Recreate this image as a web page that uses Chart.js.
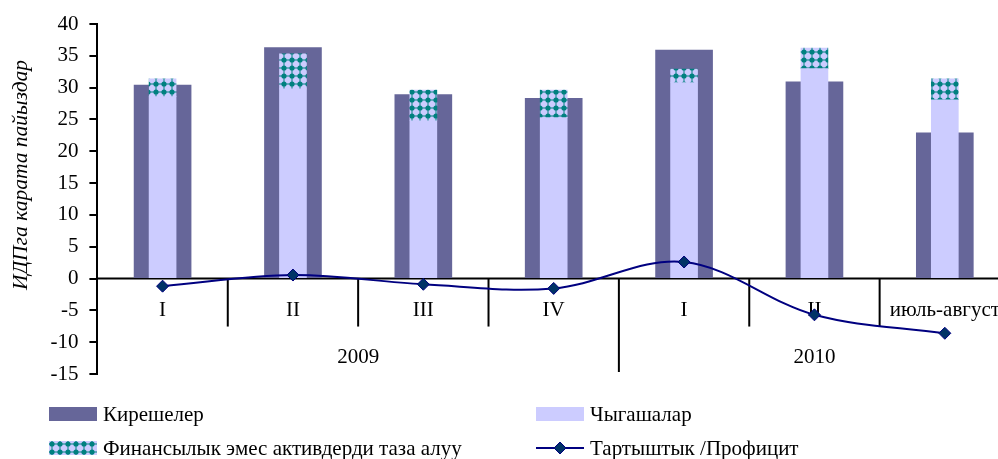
<!DOCTYPE html>
<html>
<head>
<meta charset="utf-8">
<script src="https://cdn.jsdelivr.net/npm/chart.js@4.4.0/dist/chart.umd.min.js"></script>
<style>
  html, body { margin: 0; padding: 0; background: #fff; overflow: hidden; }
  #wrap { width: 1017px; height: 459px; position: relative; }
</style>
</head>
<body>
<div id="wrap"><canvas id="budget-chart"></canvas></div>
<script>
// ------------------ DATA -------------------//
const quarters = ["I", "II", "III", "IV", "I", "II", "июль-август"];
const years = ["2009", "2009", "2009", "2009", "2010", "2010", "2010"];
const revenue = [30.4, 36.3, 28.9, 28.3, 35.9, 30.9, 22.9];
const spending = [28.6, 29.8, 24.8, 25.3, 30.8, 33.0, 28.1];
const netAssets = [2.8, 5.5, 4.8, 4.3, 2.1, 3.2, 3.3];
const balance = [-1.2, 0.55, -0.9, -1.55, 2.6, -5.7, -8.6];
const yMin = -15, yMax = 40, yStep = 5;
const seriesNames = ["Кирешелер", "Чыгашалар", "Финансылык эмес активдерди таза алуу", "Тартыштык /Профицит"];
const yTitle = "ИДПга карата пайыздар";

const FONT = '"Liberation Serif", "Times New Roman", serif';
const DARK = '#666699';
const LIGHT = '#CCCCFF';
const TEAL = '#008080';
const NAVY = '#000080';

// ------------------ checkered fill for the assets bars -------------------//
function makePattern() {
    const p = document.createElement('canvas');
    p.width = 8; p.height = 8;
    const c = p.getContext('2d');
    c.fillStyle = LIGHT;
    c.fillRect(0, 0, 8, 8);
    c.fillStyle = TEAL;
    c.fillRect(0, 3.5, 8, 1);
    c.fillRect(3.5, 0, 1, 8);
    c.beginPath();
    c.arc(4, 4, 2.6, 0, Math.PI * 2);
    c.fill();
    return c.createPattern(p, 'repeat');
}
const assetsFill = makePattern();

// ------------------ category axis drawn on the zero line -------------------//
const zeroAxis = {
    id: 'zeroAxis',
    beforeDatasetsDraw(chart) {
        const ctx = chart.ctx;
        const x = chart.scales.x, y = chart.scales.y;
        const area = chart.chartArea;
        const y0 = y.getPixelForValue(0);
        const step = x.getPixelForValue(1) - x.getPixelForValue(0);
        ctx.save();
        ctx.strokeStyle = '#000';
        ctx.lineWidth = 2;
        ctx.beginPath();
        ctx.moveTo(area.left, y0);
        ctx.lineTo(area.right, y0);
        ctx.stroke();
        ctx.fillStyle = '#000';
        ctx.font = '21px ' + FONT;
        ctx.textAlign = 'center';
        ctx.textBaseline = 'middle';
        quarters.forEach((q, i) => {
            const cx = x.getPixelForValue(i);
            ctx.fillText(q, cx, y0 + 32);
            if (i > 0) {
                const bx = cx - step / 2;
                const longTick = years[i] !== years[i - 1];
                ctx.beginPath();
                ctx.moveTo(bx, y0);
                ctx.lineTo(bx, longTick ? area.bottom - 2 : y0 + 48);
                ctx.stroke();
            }
        });
        // year labels centred over their quarters
        const groups = [];
        years.forEach((yr, i) => {
            const last = groups[groups.length - 1];
            if (last && last.name === yr) last.end = i;
            else groups.push({ name: yr, start: i, end: i });
        });
        groups.forEach(g => {
            const a = x.getPixelForValue(g.start) - step / 2;
            const b = x.getPixelForValue(g.end) + step / 2;
            ctx.fillText(g.name, (a + b) / 2, y0 + 79);
        });
        // y axis title
        ctx.translate(21, 175);
        ctx.rotate(-Math.PI / 2);
        ctx.font = 'italic 21.5px ' + FONT;
        ctx.fillText(yTitle, 0, 0);
        ctx.restore();
    }
};

// ------------------ legend in two columns -------------------//
const twoColLegend = {
    id: 'twoColLegend',
    afterDraw(chart) {
        const ctx = chart.ctx;
        const cols = [49, 536];
        const rows = [414, 448];
        ctx.save();
        ctx.font = '21px ' + FONT;
        ctx.textBaseline = 'middle';
        ctx.fillStyle = '#000';
        chart.data.datasets.forEach((ds, i) => {
            const lx = cols[i % 2], ly = rows[Math.floor(i / 2)];
            if (ds.type === 'line') {
                ctx.strokeStyle = ds.borderColor;
                ctx.lineWidth = 2;
                ctx.beginPath();
                ctx.moveTo(lx, ly);
                ctx.lineTo(lx + 48, ly);
                ctx.stroke();
                ctx.fillStyle = ds.pointBackgroundColor;
                ctx.strokeStyle = ds.pointBorderColor;
                ctx.lineWidth = 1;
                ctx.beginPath();
                ctx.moveTo(lx + 24, ly - 6);
                ctx.lineTo(lx + 30, ly);
                ctx.lineTo(lx + 24, ly + 6);
                ctx.lineTo(lx + 18, ly);
                ctx.closePath();
                ctx.fill();
                ctx.stroke();
            } else {
                ctx.fillStyle = ds.backgroundColor;
                ctx.fillRect(lx, ly - 7, 48, 14);
            }
            ctx.fillStyle = '#000';
            ctx.fillText(ds.label, lx + 54, ly + 1);
        });
        ctx.restore();
    }
};

// ------------------ CHART -------------------//
const budgetCanvas = document.getElementById('budget-chart');
let budgetChart = new Chart(budgetCanvas, {
    data: {
        labels: quarters,
        datasets: [{
            type: 'bar',
            label: seriesNames[0],
            data: revenue,
            backgroundColor: DARK,
            stack: 'rev',
            grouped: false,
            barThickness: 57,
            order: 3
        }, {
            type: 'bar',
            label: seriesNames[1],
            data: spending,
            backgroundColor: LIGHT,
            stack: 'exp',
            grouped: false,
            barThickness: 27,
            order: 2
        }, {
            type: 'bar',
            label: seriesNames[2],
            data: netAssets,
            backgroundColor: assetsFill,
            stack: 'exp',
            grouped: false,
            barThickness: 27,
            order: 2
        }, {
            type: 'line',
            label: seriesNames[3],
            data: balance,
            stack: 'bal',
            borderColor: NAVY,
            borderWidth: 2,
            tension: 0.35,
            pointStyle: 'rectRot',
            pointRadius: 6,
            pointBackgroundColor: '#003366',
            pointBorderColor: NAVY,
            pointBorderWidth: 1,
            order: 0
        }]
    },
    options: {
        responsive: true,
        maintainAspectRatio: false,
        animation: false,
        layout: {
            padding: { top: 24, right: 2.5, bottom: 85, left: 0 }
        },
        scales: {
            x: {
                type: 'category',
                display: false,
                offset: true,
                stacked: true
            },
            y: {
                stacked: true,
                min: yMin,
                max: yMax,
                afterFit(scale) { scale.width = 97.4; },
                ticks: {
                    stepSize: yStep,
                    color: '#000',
                    padding: 11,
                    font: { family: FONT, size: 21 }
                },
                grid: {
                    drawOnChartArea: false,
                    tickLength: 8,
                    color: '#000',
                    lineWidth: 2
                },
                border: { color: '#000', width: 2 }
            }
        },
        plugins: {
            legend: { display: false },
            tooltip: { enabled: false }
        }
    },
    plugins: [zeroAxis, twoColLegend]
});
</script>
</body>
</html>
